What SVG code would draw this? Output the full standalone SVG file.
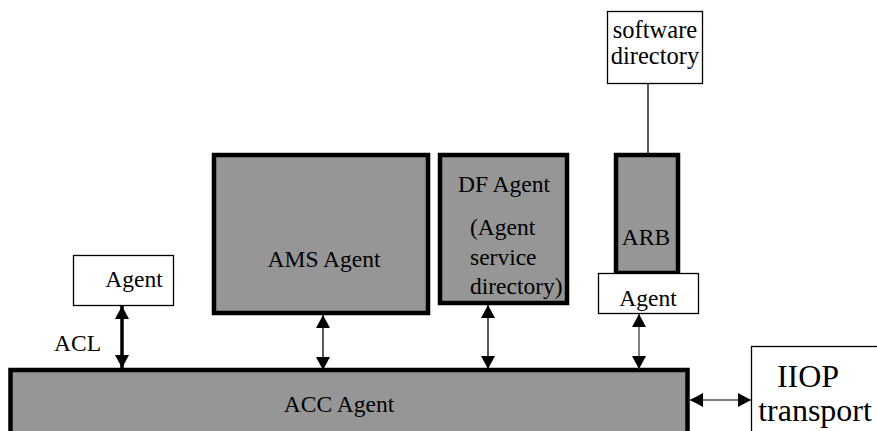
<svg xmlns="http://www.w3.org/2000/svg" width="877" height="431" viewBox="0 0 877 431">
<style>
.box{fill:#969696;stroke:#000;stroke-width:4.5}
.wbox{fill:#fff;stroke:#000;stroke-width:1.3}
text{font-family:'Liberation Serif','Times New Roman',Times,'DejaVu Serif',serif;font-size:23.5px;fill:#000}
.c{text-anchor:middle}
.big{font-size:32px}
.ln{stroke:#000;stroke-width:1.3;fill:none}
.gl{stroke:#555;stroke-width:1.5;fill:none}
.thick{stroke:#000;stroke-width:3.5;fill:none}
</style>
<defs>
<marker id="ah" markerUnits="userSpaceOnUse" markerWidth="16" markerHeight="16" viewBox="0 0 16 16" refX="14" refY="8" orient="auto-start-reverse">
<polygon points="1,1 14,8 1,15" fill="#000"/>
</marker>
</defs>
<g id="acc">
<rect class="box" x="10.5" y="370" width="677" height="70"/>
<text class="c" x="339" y="412">ACC Agent</text>
</g>
<g id="agent-left">
<rect class="wbox" x="73.5" y="255.5" width="100" height="50"/>
<text class="c" x="134" y="287">Agent</text>
</g>
<g id="ams">
<rect class="box" x="214" y="155" width="214" height="158"/>
<text class="c" x="324" y="267">AMS Agent</text>
</g>
<g id="df">
<rect class="box" x="440" y="155" width="127" height="148"/>
<text class="c" x="504" y="192">DF Agent</text>
<text x="470" y="235"> (Agent</text>
<text x="470" y="265">service</text>
<text x="470" y="294">directory)</text>
</g>
<g id="arb">
<rect class="box" x="616" y="155" width="62" height="118"/>
<text class="c" x="646" y="245">ARB</text>
</g>
<g id="agent-arb">
<rect class="wbox" x="598.5" y="273.5" width="100" height="40"/>
<text class="c" x="648" y="306">Agent</text>
</g>
<g id="software-dir">
<rect class="wbox" x="607.5" y="11.5" width="95" height="72"/>
<text class="c" x="655" y="38" style="font-size:24.5px">software</text>
<text class="c" x="655" y="64" style="font-size:24.5px">directory</text>
</g>
<g id="iiop">
<rect class="wbox" x="751.5" y="346.5" width="140" height="100"/>
<text class="c big" x="808" y="387">IIOP</text>
<text class="c big" x="815" y="421">transport</text>
</g>
<text x="54" y="351">ACL</text>
<g id="connectors">
<line class="thick" x1="122" y1="306" x2="122" y2="368" marker-start="url(#ah)" marker-end="url(#ah)"/>
<line class="ln" x1="323" y1="315" x2="323" y2="370" marker-start="url(#ah)" marker-end="url(#ah)"/>
<line class="ln" x1="488" y1="305" x2="488" y2="369" marker-start="url(#ah)" marker-end="url(#ah)"/>
<line class="gl" x1="639" y1="314" x2="639" y2="369" marker-start="url(#ah)" marker-end="url(#ah)"/>
<line class="gl" x1="690" y1="400" x2="751" y2="400" marker-start="url(#ah)" marker-end="url(#ah)"/>
<line class="ln" x1="648" y1="84" x2="648" y2="153"/>
</g>
</svg>
